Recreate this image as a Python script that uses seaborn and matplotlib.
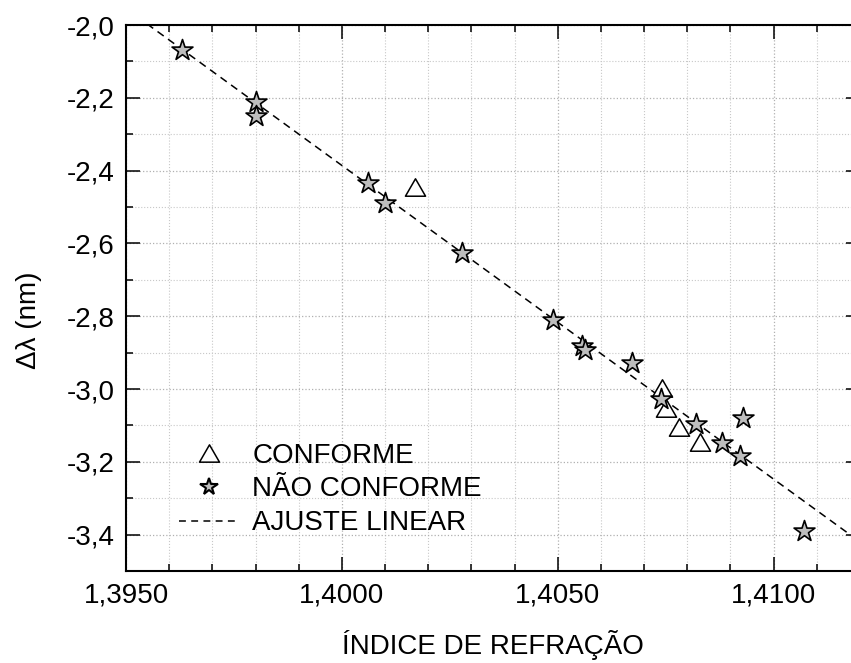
import numpy as np
import pandas as pd
import matplotlib
matplotlib.use("Agg")
import matplotlib.pyplot as plt
from matplotlib.lines import Line2D
from matplotlib.path import Path
from matplotlib.ticker import MultipleLocator, FuncFormatter
import seaborn as sns

# dados
conforme_x = [1.40169, 1.40741, 1.40750, 1.40780, 1.40830]
conforme_y = [-2.444, -2.998, -3.053, -3.105, -3.145]

nao_x = [1.39629, 1.39800, 1.39800, 1.40060, 1.40100, 1.40278, 1.40489, 1.40557,
         1.40562, 1.40671, 1.40740, 1.40821, 1.40880, 1.40921, 1.40929, 1.41070]
nao_y = [-2.069, -2.211, -2.250, -2.435, -2.488, -2.627, -2.810, -2.882,
         -2.892, -2.929, -3.028, -3.097, -3.149, -3.184, -3.080, -3.389]

# ajuste linear (extremos)
fit_x = [1.3950, 1.4120]
fit_y = [-1.955, -3.420]

labels = ["CONFORME", "NÃO CONFORME", "AJUSTE LINEAR"]

sns.set_style("ticks")
plt.rcParams['font.family'] = ['Liberation Sans', 'DejaVu Sans']
plt.rcParams.update({"text.color": "black", "axes.labelcolor": "black",
                     "xtick.color": "black", "ytick.color": "black",
                     "axes.edgecolor": "black"})

fig = plt.figure(figsize=(8.51, 6.63), dpi=100)
ax = fig.add_axes([126 / 851, 92 / 663, 734 / 851, 546 / 663])

# triangulo equilatero fechado
tri = Path([(0, 0.866), (-1, -0.866), (1, -0.866), (0, 0.866)],
           [Path.MOVETO, Path.LINETO, Path.LINETO, Path.CLOSEPOLY])

sns.lineplot(x=fit_x, y=fit_y, ax=ax, color="black", lw=1.1,
             linestyle=(0, (5, 3.5)), zorder=2)
sns.scatterplot(x=conforme_x, y=conforme_y, ax=ax, marker=tri, s=210,
                facecolor="white", edgecolor="black", linewidth=1.1, zorder=3)
sns.scatterplot(x=nao_x, y=nao_y, ax=ax, marker="*", s=250,
                color="#bdbdbd", edgecolor="black", linewidth=1.2, zorder=4)

ax.set_xlim(1.3950, 1.4120)
ax.set_ylim(-3.5, -2.0)
ax.xaxis.set_major_locator(MultipleLocator(0.005))
ax.xaxis.set_minor_locator(MultipleLocator(0.001))
ax.yaxis.set_major_locator(MultipleLocator(0.2))
ax.yaxis.set_minor_locator(MultipleLocator(0.1))
ax.xaxis.set_major_formatter(FuncFormatter(lambda v, p: f"{v:.4f}".replace(".", ",")))
ax.yaxis.set_major_formatter(FuncFormatter(lambda v, p: f"{v:.1f}".replace(".", ",")))

ax.grid(True, which="major", linestyle=":", color="#b0b0b0", lw=0.9)
ax.grid(True, which="minor", linestyle=":", color="#c8c8c8", lw=0.8)
ax.set_axisbelow(True)

ax.tick_params(which="both", direction="in", top=True, right=True,
               labelsize=20, width=1.1, pad=8)
ax.tick_params(which="major", length=10)
ax.tick_params(which="minor", length=5)
for sp in ax.spines.values():
    sp.set_linewidth(1.5)

ax.set_xlabel("ÍNDICE DE REFRAÇÃO", fontsize=20, labelpad=16)
ax.set_ylabel("Δλ (nm)", fontsize=20)
ax.yaxis.set_label_coords(-0.1144, 0.46)

handles = [
    Line2D([], [], ls="none", marker=tri, ms=14.4, mfc="white", mec="black", mew=1.1),
    Line2D([], [], ls="none", marker="*", ms=13, mfc="#bdbdbd", mec="black", mew=1.5),
    Line2D([], [], color="black", lw=1.1, linestyle=(0, (4.5, 3.5))),
]
ax.legend(handles, labels, loc="upper left", bbox_to_anchor=(0.072, 0.235),
          frameon=False, fontsize=20, borderpad=0, borderaxespad=0,
          handlelength=2.2, handletextpad=0.45, labelspacing=0.28)

fig.savefig("out.png", dpi=100)
